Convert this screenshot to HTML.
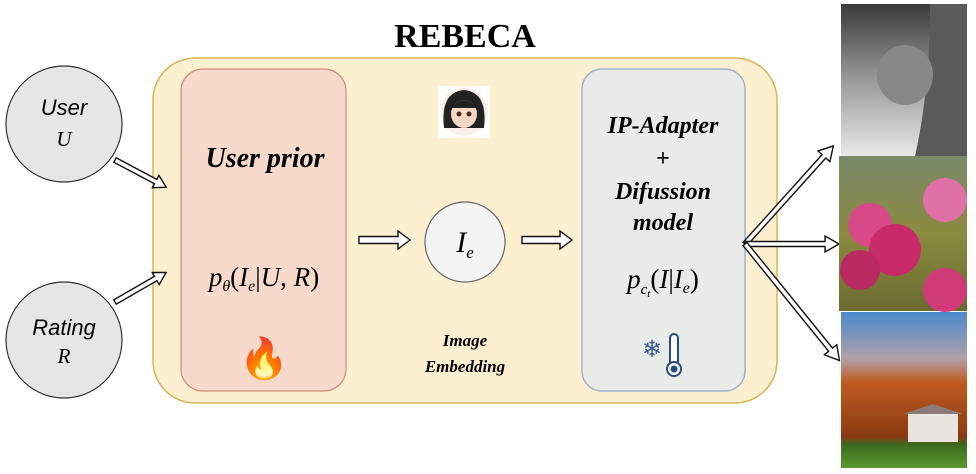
<!DOCTYPE html>
<html><head><meta charset="utf-8"><style>
html,body{margin:0;padding:0;background:#fff;}
svg{display:block;}
text{font-family:"Liberation Serif",serif;}
</style></head><body>
<svg width="976" height="474" viewBox="0 0 976 474" xmlns="http://www.w3.org/2000/svg">
<defs>
<linearGradient id="g1" x1="0" y1="0" x2="0" y2="1"><stop offset="0" stop-color="#3a3a3a"/><stop offset="0.5" stop-color="#9a9a9a"/><stop offset="1" stop-color="#e8e8e8"/></linearGradient>
<linearGradient id="g2" x1="0" y1="0" x2="0" y2="1"><stop offset="0" stop-color="#7a8a6a"/><stop offset="0.5" stop-color="#8a8a40"/><stop offset="1" stop-color="#6a6a30"/></linearGradient>
<linearGradient id="g3" x1="0" y1="0" x2="0" y2="1"><stop offset="0" stop-color="#4a8acc"/><stop offset="0.3" stop-color="#b0a0a8"/><stop offset="0.45" stop-color="#c05a20"/><stop offset="0.8" stop-color="#8a3a10"/><stop offset="0.85" stop-color="#3a6a20"/><stop offset="1" stop-color="#5a9a30"/></linearGradient>
</defs>
<text x="465" y="47" text-anchor="middle" font-size="34" font-weight="bold">REBECA</text>
<rect x="153" y="58" width="624" height="345" rx="42" fill="#fcf0d0" stroke="#d6b656" stroke-width="1.5"/>
<rect x="181" y="69" width="165" height="322" rx="22" fill="#f7dacb" stroke="#cf8c7c" stroke-width="1.2"/>
<rect x="582" y="69" width="163" height="322" rx="20" fill="#e9ebe8" stroke="#9fb3cc" stroke-width="1.5"/>
<circle cx="64" cy="124" r="58" fill="#e6e6e6" stroke="#333" stroke-width="1.2"/>
<circle cx="64" cy="340" r="58" fill="#e6e6e6" stroke="#333" stroke-width="1.2"/>
<circle cx="465" cy="242" r="40" fill="#f4f4f4" stroke="#666" stroke-width="1.2"/>
<text x="64" y="115" text-anchor="middle" font-size="22" font-style="italic" style="font-family:'Liberation Sans',sans-serif">User</text>
<text x="64" y="146" text-anchor="middle" font-size="21" font-style="italic">U</text>
<text x="64" y="335" text-anchor="middle" font-size="22" font-style="italic" style="font-family:'Liberation Sans',sans-serif">Rating</text>
<text x="64" y="363" text-anchor="middle" font-size="21" font-style="italic">R</text>
<text x="265" y="167" text-anchor="middle" font-size="28" font-weight="bold" font-style="italic">User prior</text>
<text x="264" y="286" text-anchor="middle" font-size="27" font-style="italic">p<tspan font-size="16" dy="5">θ</tspan><tspan dy="-5" font-style="normal">(</tspan>I<tspan font-size="16" dy="5">e</tspan><tspan dy="-5" font-style="normal">|</tspan>U, R<tspan font-style="normal">)</tspan></text>
<text x="264" y="372" text-anchor="middle" font-size="40">🔥</text>
<text x="663" y="133" text-anchor="middle" font-size="24" font-weight="bold" font-style="italic">IP-Adapter</text>
<text x="663" y="166" text-anchor="middle" font-size="24" font-weight="bold">+</text>
<text x="663" y="199" text-anchor="middle" font-size="24" font-weight="bold" font-style="italic">Difussion</text>
<text x="663" y="230" text-anchor="middle" font-size="24" font-weight="bold" font-style="italic">model</text>
<text x="663" y="288" text-anchor="middle" font-size="27" font-style="italic">p<tspan font-size="15" dy="6">c<tspan font-size="11" dy="3">t</tspan></tspan><tspan dy="-9" font-style="normal">(</tspan>I<tspan font-style="normal">|</tspan>I<tspan font-size="16" dy="5">e</tspan><tspan dy="-5" font-style="normal">)</tspan></text>
<text x="652" y="357" text-anchor="middle" font-size="24" fill="#3a5a90">❄</text>
<rect x="670" y="334" width="8" height="32" rx="4" fill="#fff" stroke="#2a4a80" stroke-width="2"/>
<circle cx="674" cy="369" r="7" fill="#fff" stroke="#2a4a80" stroke-width="2"/>
<circle cx="674" cy="369" r="3.5" fill="#2a4a80"/>
<text x="465" y="252" text-anchor="middle" font-size="30" font-style="italic">I<tspan font-size="17" dy="6">e</tspan></text>
<text x="465" y="346" text-anchor="middle" font-size="17" font-weight="bold" font-style="italic">Image</text>
<text x="465" y="372" text-anchor="middle" font-size="17" font-weight="bold" font-style="italic">Embedding</text>
<rect x="438" y="86" width="52" height="52" fill="#fff"/>
<circle cx="464" cy="112" r="24" fill="#f6f2ea"/>
<path d="M444 128 Q440 92 464 90 Q488 92 484 128 Z" fill="#222"/>
<ellipse cx="464" cy="114" rx="13" ry="14" fill="#f7d8c4"/>
<path d="M451 108 Q464 92 477 108 Z" fill="#222"/>
<circle cx="459" cy="114" r="2.5" fill="#4a2a1a"/><circle cx="469" cy="114" r="2.5" fill="#4a2a1a"/>
<g fill="#fff" stroke="#111" stroke-width="1.4" stroke-linejoin="miter">
<polygon transform="translate(115,160) rotate(28)" points="0,-2.5 46,-2.5 46,-7 58,0 46,7 46,2.5 0,2.5"/>
<polygon transform="translate(115,302) rotate(-30)" points="0,-2.5 47,-2.5 47,-7 59,0 47,7 47,2.5 0,2.5"/>
<polygon transform="translate(359,240)" points="0,-3.5 39,-3.5 39,-9 51,0 39,9 39,3.5 0,3.5"/>
<polygon transform="translate(522,240)" points="0,-3.5 38,-3.5 38,-9 50,0 38,9 38,3.5 0,3.5"/>
<polygon transform="translate(745,244) rotate(-48)" points="0,-2.5 118,-2.5 118,-8 132,0 118,8 118,2.5 0,2.5"/>
<polygon transform="translate(745,244) rotate(0)" points="0,-2.5 80,-2.5 80,-8 94,0 80,8 80,2.5 0,2.5"/>
<polygon transform="translate(745,244) rotate(51)" points="0,-2.5 136,-2.5 136,-8 150,0 136,8 136,2.5 0,2.5"/>
</g>
<rect x="841" y="4" width="126" height="152" fill="url(#g1)"/>
<path d="M930 4 L967 4 L967 156 L915 156 Q930 90 930 4 Z" fill="#5a5a5a"/>
<ellipse cx="905" cy="75" rx="28" ry="30" fill="#888"/>
<rect x="839" y="156" width="128" height="155" fill="url(#g2)"/>
<circle cx="870" cy="225" r="22" fill="#d84a8a"/><circle cx="895" cy="250" r="26" fill="#c82a6a"/><circle cx="945" cy="200" r="22" fill="#e070a8"/><circle cx="860" cy="270" r="20" fill="#b82a60"/><circle cx="945" cy="290" r="22" fill="#d03a78"/>
<rect x="841" y="312" width="126" height="156" fill="url(#g3)"/>
<rect x="908" y="412" width="50" height="30" fill="#e8e4e0"/>
<polygon points="903,414 933,404 963,414" fill="#8a7a7a"/>
</svg>
</body></html>
